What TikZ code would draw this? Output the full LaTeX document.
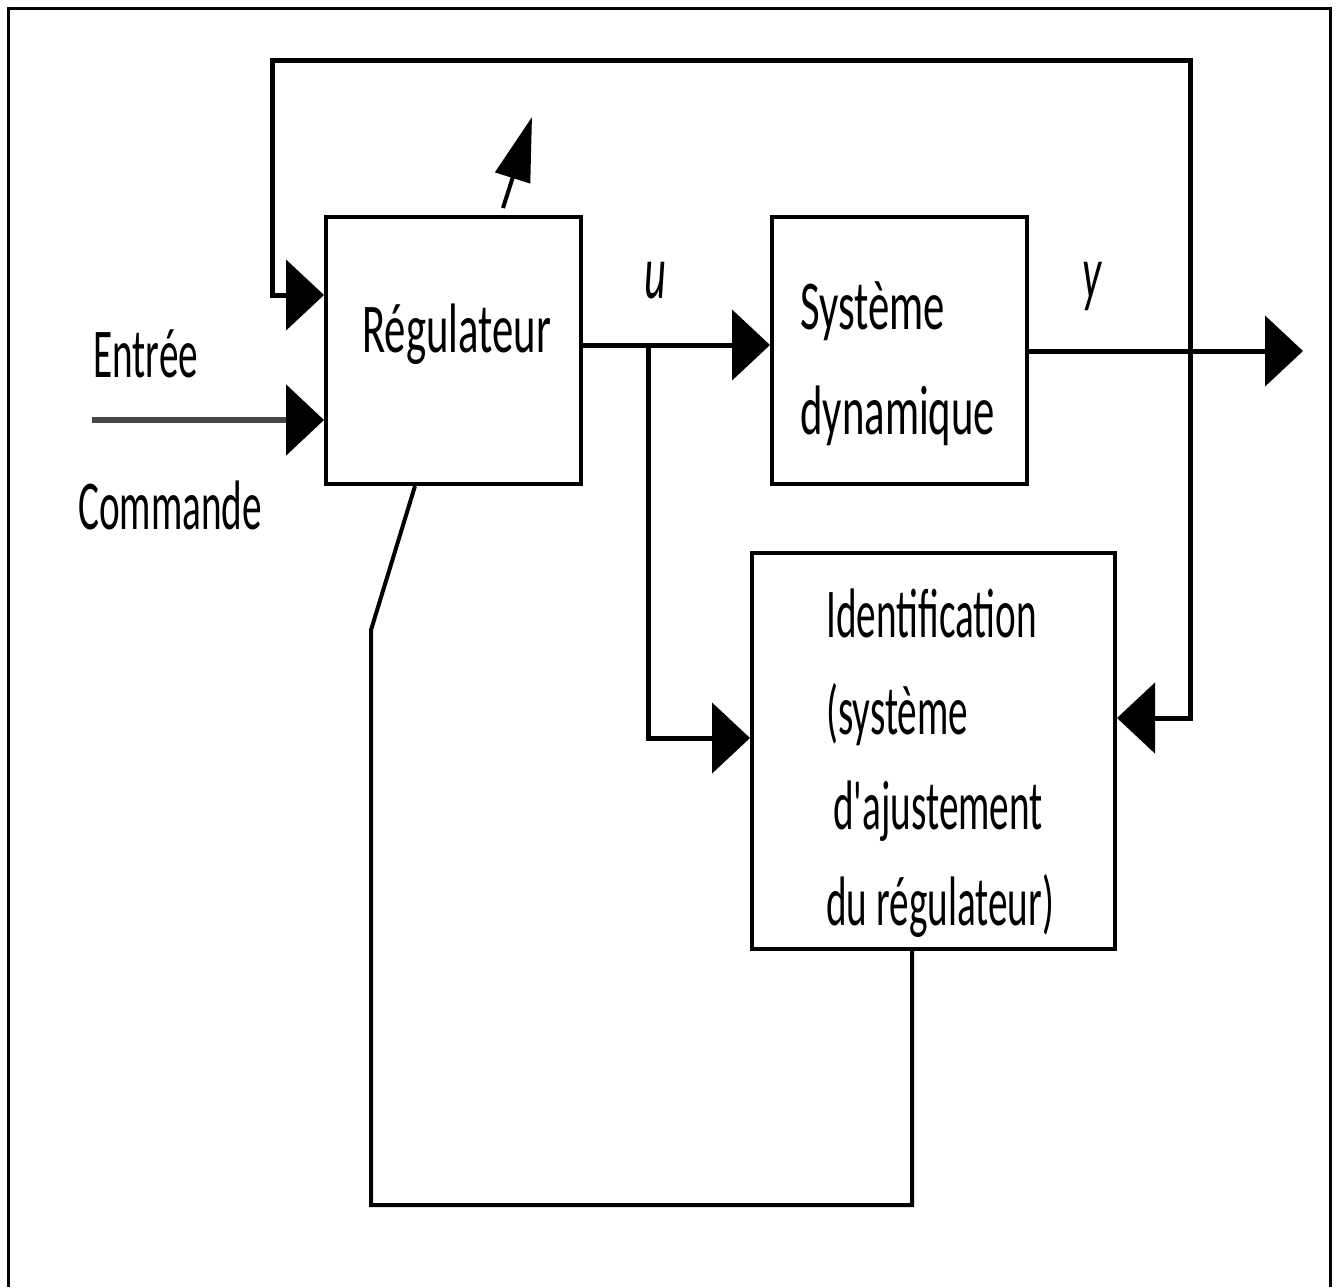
\documentclass[tikz,border=0pt]{standalone}
\usepackage{fontspec}
\newfontfamily\lbl[FakeStretch=0.56]{Carlito}
\newfontfamily\lblwide[FakeStretch=0.61]{Carlito}
\usetikzlibrary{arrows.meta}

\begin{document}
\begin{tikzpicture}[x=0.5pt, y=-0.5pt,
  blockbox/.style={draw=black, line width=2pt, minimum width=#1, inner sep=0pt},
  txt/.style={font=\lbl\fontsize{35}{48}\selectfont, inner sep=0pt, anchor=base west},
  wtxt/.style={txt, font=\lblwide\fontsize{35}{48}\selectfont},
  sym/.style={font=\lbl\itshape\fontsize{38}{48}\selectfont, inner sep=0pt, anchor=base},
  wire/.style={line width=2.5pt, line join=miter},
  big/.style={-{Triangle[length=19pt,width=35pt,color=black]}},
]
% picture area and outer frame (open at the bottom)
\useasboundingbox (0,0) rectangle (1338,1287);
\draw[line width=1.5pt] (8,1287) -- (8,8) -- (1330,8) -- (1330,1287);

% blocks
\node[blockbox=127.5pt, minimum height=133.5pt] (reg)   at (453.5,350.5) {};
\node[blockbox=127.5pt, minimum height=133.5pt] (sys)   at (899.5,350.5) {};
\node[blockbox=181.5pt, minimum height=198pt]   (ident) at (933.5,751) {};

% block texts
\node[wtxt] (regtxt) at (362,352) {Régulateur};
\node[wtxt] (systxt1) at (800,329) {Système};
\node[wtxt] (systxt2) at (800,434) {dynamique};
\node[txt] (idtxt1) at (826,637) {Identification};
\node[txt] (idtxt2) at (826,734) {(système};
\node[txt] (idtxt3) at (833,829) {d'ajustement};
\node[txt] (idtxt4) at (826,925) {du régulateur)};

% side labels
\node[txt] (entree) at (93,377) {Entrée};
\node[txt] (cmd)    at (78,529) {Commande};
\node[sym] (ulab)   at (655,298) {u};
\node[sym] (ylab)   at (1092,298) {y};

% signal junctions and free ends
\coordinate (ju)   at (648,345);
\coordinate (jy)   at (1190,351);
\coordinate (out)  at (1303,351);
\coordinate (inp)  at (92,420);
\coordinate (adj0) at (503,208);
\coordinate (adj1) at (532,117);

% command input
\draw[wire, line width=3pt, black!72, big] (inp) -- (inp -| reg.west);

% control signal u
\draw[wire, big] (ju -| reg.east) -- (ju -| sys.west);
\draw[wire, big] (ju) -- (648,738) -- (648,738 -| ident.west);

% output y
\draw[wire, big] (jy -| sys.east) -- (out);
\draw[wire, big] (jy) -- (1190,60) -- (272,60) -- (272,295) -- (272,295 -| reg.west);
\draw[wire, big] (jy) -- (1190,718) -- (1190,718 -| ident.east);

% adjustable regulator
\draw[line width=2pt, -{Triangle[length=32pt,width=18pt]}] (adj0) -- (adj1);

% adjustment path back to the regulator
\draw[line width=2pt, line join=miter] (ident.south -| 912,0) -- (912,1205) -- (371,1205) -- (371,630) -- (reg.south -| 415,0);
\end{tikzpicture}
\end{document}
